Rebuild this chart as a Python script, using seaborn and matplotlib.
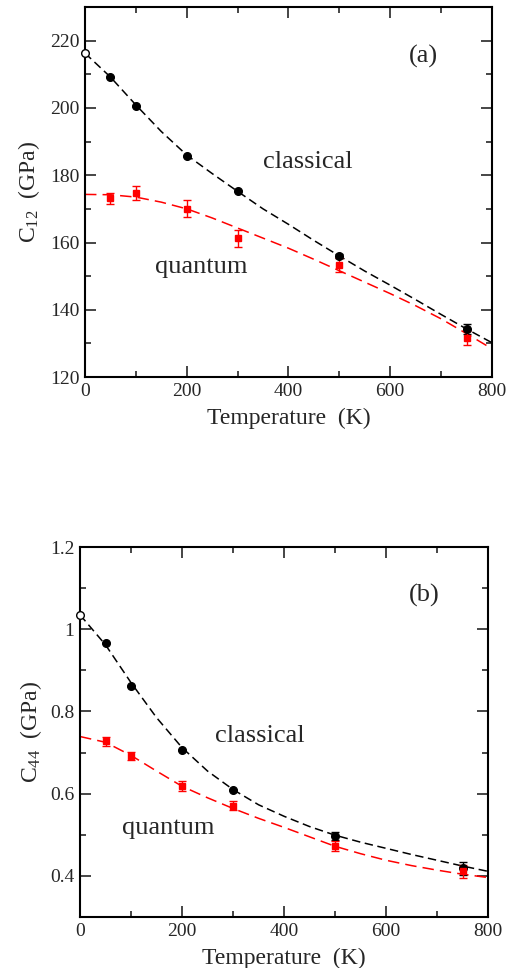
import numpy as np
import pandas as pd
import seaborn as sns
import matplotlib
matplotlib.use('Agg')
import matplotlib.pyplot as plt
from matplotlib.ticker import MultipleLocator

# temperatures of the simulation points
temps = [50, 100, 200, 300, 500, 750]

# panel (a): C12
c12_zero = 216.3
c12_classical = [209.2, 200.7, 185.8, 175.3, 156.0, 134.2]
c12_classical_err = [0, 0, 0, 0, 0.5, 1.5]
c12_quantum = [173.1, 174.7, 170.1, 161.2, 153.3, 131.6]
c12_quantum_err = [1.7, 2.0, 2.5, 2.5, 2.0, 2.0]

# panel (b): C44
c44_zero = 1.035
c44_classical = [0.966, 0.862, 0.707, 0.609, 0.497, 0.418]
c44_classical_err = [0, 0, 0, 0, 0.010, 0.015]
c44_quantum = [0.727, 0.692, 0.619, 0.571, 0.473, 0.411]
c44_quantum_err = [0.012, 0.010, 0.012, 0.010, 0.012, 0.015]

# fitted curves
fit_t = [0, 50, 100, 150, 200, 250, 300, 350, 400, 450, 500, 550, 600, 650, 700, 750, 800]
c12_fit_classical = [216.3, 209.2, 200.9, 193.0, 186.0, 180.5, 175.2, 170.0, 165.4, 160.6, 156.0,
                     151.5, 147.3, 143.0, 138.6, 134.3, 130.2]
c12_fit_quantum = [174.3, 174.2, 173.5, 172.0, 170.0, 167.3, 164.3, 161.3, 158.3, 155.0, 151.6,
                   148.2, 144.8, 141.2, 137.3, 132.9, 128.4]
c44_fit_classical = [1.035, 0.962, 0.870, 0.785, 0.712, 0.655, 0.610, 0.573, 0.545, 0.520, 0.499,
                     0.482, 0.467, 0.452, 0.438, 0.424, 0.411]
c44_fit_quantum = [0.739, 0.725, 0.693, 0.655, 0.618, 0.590, 0.564, 0.540, 0.518, 0.495, 0.472,
                   0.454, 0.438, 0.425, 0.414, 0.404, 0.396]

sns.set_theme(style='ticks')
plt.rcParams['font.family'] = ['Liberation Serif', 'DejaVu Serif']
plt.rcParams['mathtext.fontset'] = 'custom'
plt.rcParams['mathtext.rm'] = 'Liberation Serif'
plt.rcParams['mathtext.it'] = 'Liberation Serif'

fig = plt.figure(figsize=(5.11, 9.68), dpi=100)
ax_a = fig.add_axes([0.1663, 0.6105, 0.7965, 0.3822])
ax_b = fig.add_axes([0.1566, 0.0527, 0.7985, 0.3822])


def draw_panel(ax, zero, cl, cl_err, qu, qu_err, fit_cl, fit_qu):
    fits = pd.DataFrame({'T': fit_t, 'classical': fit_cl, 'quantum': fit_qu})
    sns.lineplot(data=fits, x='T', y='classical', ax=ax, color='black', lw=1.1,
                 dashes=False, linestyle=(0, (5.5, 3)))
    sns.lineplot(data=fits, x='T', y='quantum', ax=ax, color='red', lw=1.1,
                 dashes=False, linestyle=(0, (7.5, 4)))
    ax.errorbar(temps, cl, yerr=cl_err, fmt='o', color='black', ms=5.5, capsize=3, elinewidth=1)
    ax.errorbar(temps, qu, yerr=qu_err, fmt='s', color='red', ms=4.8, capsize=3, elinewidth=1)
    ax.plot([0], [zero], 'o', mfc='white', mec='black', ms=5.5, mew=1, clip_on=False, zorder=5)
    ax.set_xlim(0, 800)
    ax.xaxis.set_major_locator(MultipleLocator(200))
    ax.xaxis.set_minor_locator(MultipleLocator(100))
    ax.tick_params(which='both', direction='in', top=True, right=True, labelsize=14, width=1.2)
    ax.tick_params(which='major', length=8, pad=4)
    ax.tick_params(which='minor', length=4)
    for s in ax.spines.values():
        s.set_linewidth(1.5)
        s.set_color('black')
    ax.set_xlabel('Temperature  (K)', fontsize=17, labelpad=6)


draw_panel(ax_a, c12_zero, c12_classical, c12_classical_err, c12_quantum, c12_quantum_err,
           c12_fit_classical, c12_fit_quantum)
ax_a.set_ylim(120, 230)
ax_a.yaxis.set_major_locator(MultipleLocator(20))
ax_a.yaxis.set_minor_locator(MultipleLocator(10))
ax_a.set_ylabel('C$_{12}$  (GPa)', fontsize=17, labelpad=6)
ax_a.text(350, 182.2, 'classical', fontsize=19)
ax_a.text(138, 151, 'quantum', fontsize=19)
ax_a.text(637, 213.4, '(a)', fontsize=19)

draw_panel(ax_b, c44_zero, c44_classical, c44_classical_err, c44_quantum, c44_quantum_err,
           c44_fit_classical, c44_fit_quantum)
ax_b.set_ylim(0.3, 1.2)
ax_b.yaxis.set_major_locator(MultipleLocator(0.2))
ax_b.yaxis.set_minor_locator(MultipleLocator(0.1))
ax_b.yaxis.set_major_formatter(plt.FuncFormatter(lambda v, p: ('%g' % round(v, 2))))
ax_b.set_ylabel('C$_{44}$  (GPa)', fontsize=17, labelpad=4)
ax_b.text(265, 0.726, 'classical', fontsize=19)
ax_b.text(82, 0.503, 'quantum', fontsize=19)
ax_b.text(645, 1.067, '(b)', fontsize=19)

fig.savefig('out.png', dpi=100, facecolor='white')
